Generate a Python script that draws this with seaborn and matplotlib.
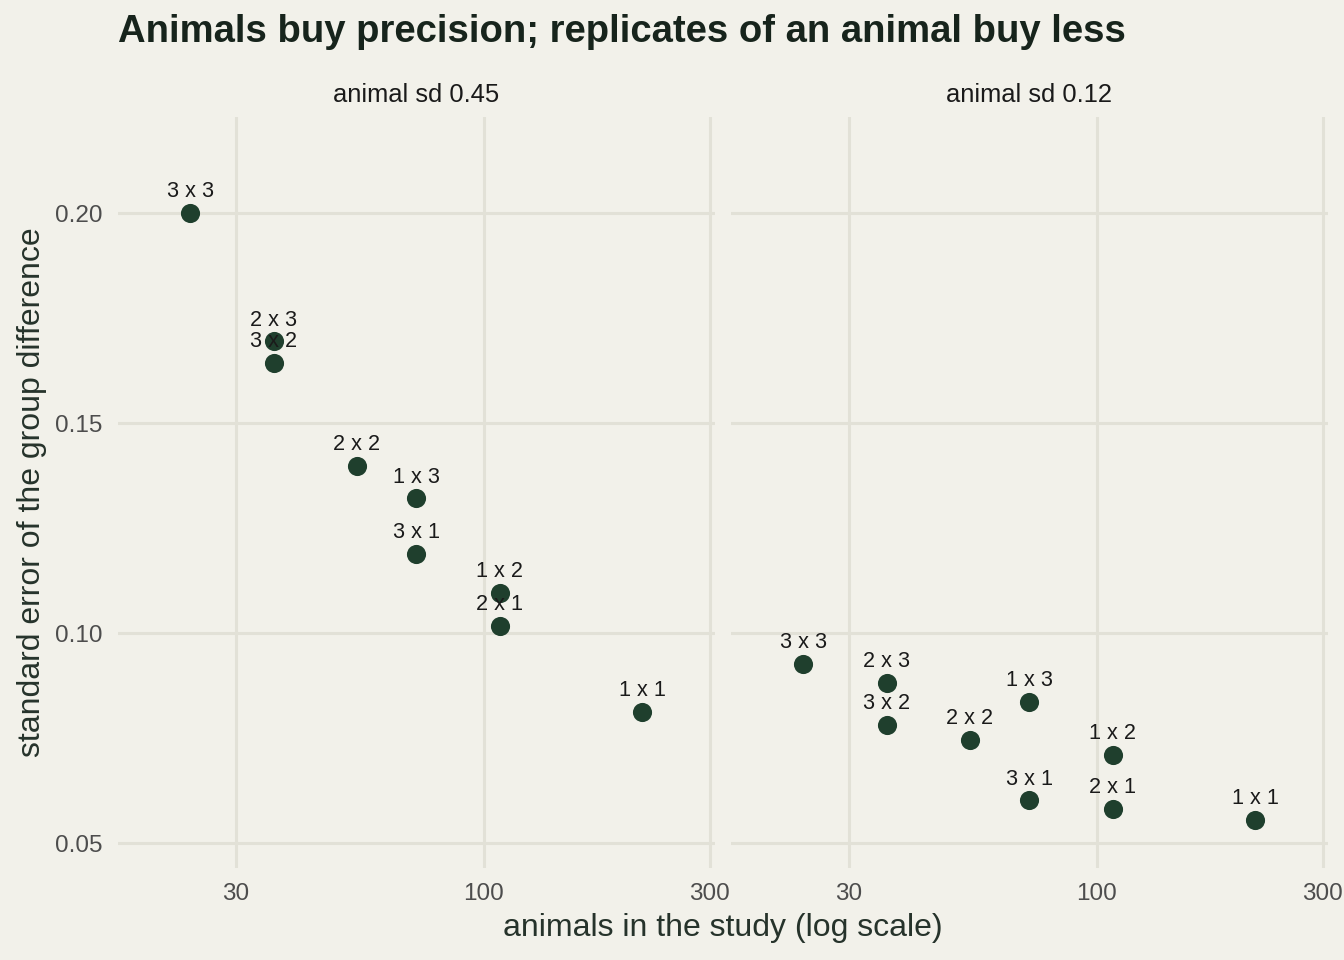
import matplotlib
matplotlib.use("Agg")
import matplotlib.pyplot as plt
import seaborn as sns
import pandas as pd
from matplotlib.ticker import FixedLocator, NullLocator

# data
animals = [24, 36, 36, 54, 72, 72, 108, 108, 216]
designs = ["3 x 3", "2 x 3", "3 x 2", "2 x 2", "1 x 3", "3 x 1", "1 x 2", "2 x 1", "1 x 1"]
se_sd045 = [0.2000, 0.1695, 0.1643, 0.1398, 0.1321, 0.1188, 0.1095, 0.1017, 0.0812]
se_sd012 = [0.0926, 0.0881, 0.0781, 0.0745, 0.0836, 0.0602, 0.0710, 0.0581, 0.0555]
panels = ["animal sd 0.45", "animal sd 0.12"]
x_ticks = [30, 100, 300]
y_ticks = [0.05, 0.10, 0.15, 0.20]

df = pd.concat([
    pd.DataFrame({"animals": animals, "design": designs, "se": se_sd045, "panel": panels[0]}),
    pd.DataFrame({"animals": animals, "design": designs, "se": se_sd012, "panel": panels[1]}),
])

BG = "#f2f1ea"
GRID = "#e2e1d7"
PT = "#1f3f2d"

sns.set_theme(style="white")
plt.rcParams["font.family"] = ["Liberation Sans", "DejaVu Sans"]

W, H = 1344, 960
fig = plt.figure(figsize=(W / 100, H / 100), dpi=100, facecolor=BG)

panel_x = [118, 731]
panel_w = 597
top, bottom = 117, 868

axes = []
for i, name in enumerate(panels):
    ax = fig.add_axes([panel_x[i] / W, (H - bottom) / H, panel_w / W, (bottom - top) / H])
    ax.set_facecolor(BG)
    sub = df[df["panel"] == name]
    sns.scatterplot(data=sub, x="animals", y="se", ax=ax, color=PT, s=190,
                    edgecolor=PT, linewidth=0, zorder=3)
    for _, r in sub.iterrows():
        ax.annotate(r["design"], (r["animals"], r["se"]), xytext=(0, 15.2),
                    textcoords="offset points", ha="center", va="center",
                    fontsize=15.6, color="#1a1a1a", zorder=4)
    ax.set_xscale("log")
    ax.set_xlim(16.9, 307.5)
    ax.set_ylim(0.04405, 0.22286)
    ax.xaxis.set_major_locator(FixedLocator(x_ticks))
    ax.xaxis.set_minor_locator(NullLocator())
    ax.set_xticklabels([str(t) for t in x_ticks])
    ax.set_yticks(y_ticks)
    if i == 0:
        ax.set_yticklabels([f"{t:.2f}" for t in y_ticks])
    else:
        ax.set_yticklabels([])
    ax.tick_params(length=0, labelsize=17.5, colors="#4d4d4d", pad=11)
    ax.grid(True, color=GRID, linewidth=2.2)
    ax.set_axisbelow(True)
    for s in ax.spines.values():
        s.set_visible(False)
    ax.set_xlabel("")
    ax.set_ylabel("")
    fig.text((panel_x[i] + panel_w / 2) / W, 1 - 95 / H, name, ha="center", va="center",
             fontsize=18.4, color="#1a1a1a")
    axes.append(ax)

fig.text(118 / W, 1 - 32 / H, "Animals buy precision; replicates of an animal buy less",
         ha="left", va="center", fontsize=27.5, fontweight="bold", color="#17241c")
fig.text(723 / W, 1 - 928 / H, "animals in the study (log scale)", ha="center", va="center",
         fontsize=23, color="#26332b")
fig.text(32 / W, 1 - 492 / H, "standard error of the group difference", ha="center",
         va="center", rotation=90, fontsize=23, color="#26332b")

fig.savefig("out.png", dpi=100, facecolor=BG)
